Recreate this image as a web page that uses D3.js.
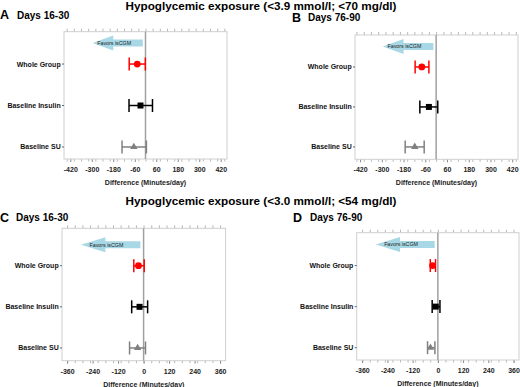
<!DOCTYPE html>
<html><head><meta charset="utf-8">
<script src="https://cdn.jsdelivr.net/npm/d3@7"></script>
<style>
html,body{margin:0;padding:0;background:#fff;}
svg{display:block;font-family:"Liberation Sans",Arial,Helvetica,sans-serif;}
</style></head>
<body>
<script>
// ---- data ----
const rowLabels = ["Whole Group", "Baseline Insulin", "Baseline SU"];
const titles = ["Hypoglycemic exposure (<3.9 mmol/l; <70 mg/dl)", "Hypoglycemic exposure (<3.0 mmol/l; <54 mg/dl)"];
const panelLetters = ["A", "B", "C", "D"];
const periods = ["Days 16-30", "Days 76-90", "Days 16-30", "Days 76-90"];
const axisTitle = "Difference (Minutes/day)";
const arrowText = "Favors isCGM";

const estA = [-46, -28, -65], loA = [-91, -92, -131], hiA = [-1, 39, 5];
const estB = [-79, -40, -118], loB = [-116, -90, -171], hiB = [-40, 9, -66];
const estC = [-24, -19, -28], loC = [-46, -56, -66], hiC = [3, 19, 9];
const estD = [-25, -10, -35], loD = [-36, -27, -49], hiD = [-11, 10, -14];

const ticksTop = [-420, -300, -180, -60, 60, 180, 300, 420];
const ticksBottom = [-360, -240, -120, 0, 120, 240, 360];

// ---- layout ----
const W = 520, H = 387;
const svg = d3.select("body").append("svg").attr("width", W).attr("height", H);

const panels = [
  {est: estA, lo: loA, hi: hiA, ticks: ticksTop, minor: 40, xd: [-455, 455], yd: [0.22, 3.29],
   left: 64, right: 227, top: 31.7, bottom: 159, lx: 0, ly: 19, px: 17},
  {est: estB, lo: loB, hi: hiB, ticks: ticksTop, minor: 40, xd: [-448, 452], yd: [0.2, 3.31],
   left: 355, right: 518, top: 35, bottom: 159.3, lx: 292, ly: 21.7, px: 308},
  {est: estC, lo: loC, hi: hiC, ticks: ticksBottom, minor: 36, xd: [-384, 386], yd: [0.09, 3.31],
   left: 62, right: 225.6, top: 228.3, bottom: 360.7, lx: 0, ly: 221.7, px: 16},
  {est: estD, lo: loD, hi: hiD, ticks: ticksBottom, minor: 36, xd: [-386, 386], yd: [0.2, 3.3],
   left: 356.7, right: 519, top: 232.7, bottom: 360, lx: 293, ly: 221.7, px: 310}
];
const colors = ["#ff0000", "#000000", "#808080"];
const arrowData = {tip: -295, base: -180, end: -15, textX: -175, yv: 0.49};

// titles
svg.append("text").attr("x", 261).attr("y", 10).attr("text-anchor", "middle")
  .attr("font-size", 11.7).attr("font-weight", "bold").text(titles[0]);
svg.append("text").attr("x", 261).attr("y", 205).attr("text-anchor", "middle")
  .attr("font-size", 11.7).attr("font-weight", "bold").text(titles[1]);

panels.forEach((p, i) => {
  const g = svg.append("g");
  const x = d3.scaleLinear().domain(p.xd).range([p.left, p.right]);
  const y = d3.scaleLinear().domain(p.yd).range([p.top, p.bottom]);

  // panel letter & period
  g.append("text").attr("x", p.lx).attr("y", p.ly).attr("font-size", 12.5).attr("font-weight", "bold").text(panelLetters[i]);
  g.append("text").attr("x", p.px).attr("y", p.ly - 0.3).attr("font-size", 10).attr("font-weight", "bold").text(periods[i]);

  // minor ticks
  const lim = Math.max(Math.abs(p.xd[0]), Math.abs(p.xd[1]));
  const n = Math.floor(lim / p.minor);
  const minorVals = d3.range(-n, n + 1).map(k => k * p.minor);
  const topAx = g.append("g").attr("transform", `translate(0,${p.top})`)
    .call(d3.axisTop(x).tickValues(minorVals).tickSize(3).tickFormat(""));
  topAx.select(".domain").remove();
  topAx.selectAll("line").attr("stroke", "#999").attr("stroke-width", 0.7);
  const botMinor = g.append("g").attr("transform", `translate(0,${p.bottom})`)
    .call(d3.axisBottom(x).tickValues(minorVals).tickSize(2.5).tickFormat(""));
  botMinor.select(".domain").remove();
  botMinor.selectAll("line").attr("stroke", "#999").attr("stroke-width", 0.7);

  // bottom axis labels
  const ax = g.append("g").attr("transform", `translate(0,${p.bottom})`)
    .call(d3.axisBottom(x).tickValues(p.ticks).tickSize(3).tickPadding(5).tickFormat(d3.format("d")));
  ax.select(".domain").remove();
  ax.selectAll("line").attr("stroke", "#888");
  ax.selectAll("text").attr("font-size", 7).attr("font-weight", "bold").attr("fill", "#222")
    .attr("font-family", "Liberation Sans, Arial, sans-serif").text(d => d3.format("d")(d).replace("−", "-"));

  g.append("text").attr("x", (p.left + p.right) / 2).attr("y", p.bottom + 26).attr("text-anchor", "middle")
    .attr("font-size", 7).attr("font-weight", "bold").attr("fill", "#222").text(axisTitle);

  // box
  g.append("rect").attr("x", p.left).attr("y", p.top).attr("width", p.right - p.left).attr("height", p.bottom - p.top)
    .attr("fill", "none").attr("stroke", "#cfcfcf").attr("stroke-width", 1);

  // zero line
  g.append("line").attr("x1", x(0)).attr("x2", x(0)).attr("y1", p.top).attr("y2", p.bottom)
    .attr("stroke", "#a0a0a0").attr("stroke-width", 1.5);

  // arrow
  const ay = y(arrowData.yv);
  const pts = [[x(arrowData.tip), ay], [x(arrowData.base), ay - 7.5], [x(arrowData.base), ay - 3.5],
    [x(arrowData.end), ay - 3.5], [x(arrowData.end), ay + 3.5], [x(arrowData.base), ay + 3.5], [x(arrowData.base), ay + 7.5]];
  g.append("polygon").attr("points", pts.map(d => d.join(",")).join(" ")).attr("fill", "#a8d8e6");
  g.append("text").attr("x", x(arrowData.textX)).attr("y", ay + 1.8).attr("text-anchor", "middle")
    .attr("font-size", 5.3).attr("fill", "#222").text(arrowText);

  // rows
  rowLabels.forEach((lab, j) => {
    const yy = y(j + 1);
    g.append("text").attr("x", p.left - 3.3).attr("y", yy + 2.5).attr("text-anchor", "end")
      .attr("font-size", 7).attr("font-weight", "bold").attr("fill", "#111").text(lab);
    g.append("line").attr("x1", p.left - 2).attr("x2", p.left).attr("y1", yy).attr("y2", yy).attr("stroke", "#666");
    const c = colors[j];
    const x0 = x(p.lo[j]), x1 = x(p.hi[j]);
    g.append("line").attr("x1", x0).attr("x2", x1).attr("y1", yy).attr("y2", yy).attr("stroke", c).attr("stroke-width", 1.5);
    [x0, x1].forEach(xx => g.append("line").attr("x1", xx).attr("x2", xx).attr("y1", yy - 6.5).attr("y2", yy + 6.5)
      .attr("stroke", c).attr("stroke-width", 1.5));
    const cx = x(p.est[j]);
    if (j === 0) {
      g.append("circle").attr("cx", cx).attr("cy", yy).attr("r", 3.4).attr("fill", c);
    } else if (j === 1) {
      g.append("rect").attr("x", cx - 3).attr("y", yy - 3).attr("width", 6).attr("height", 6).attr("fill", c);
    } else {
      g.append("path").attr("d", d3.symbol(d3.symbolTriangle, 24)()).attr("transform", `translate(${cx},${yy})`).attr("fill", c);
    }
  });
});
</script>
</body></html>
